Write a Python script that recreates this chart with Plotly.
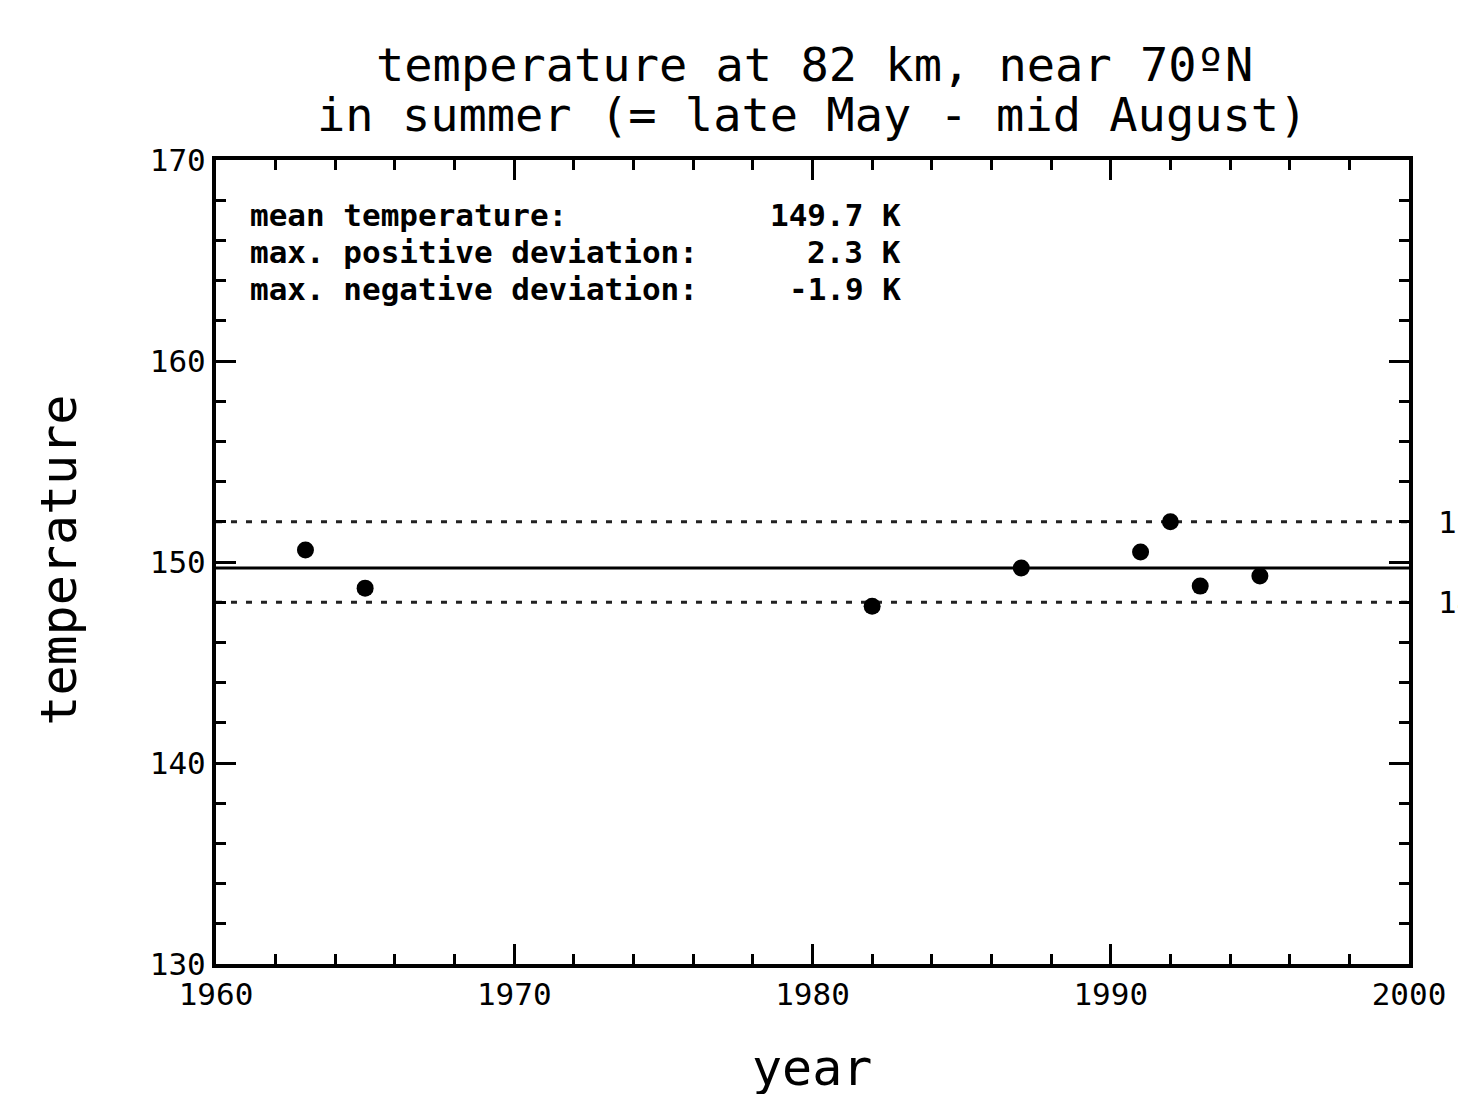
import plotly.graph_objects as go

# ---- data ----
years = [1963, 1965, 1982, 1987, 1991, 1992, 1993, 1995]
temps = [150.6, 148.7, 147.8, 149.7, 150.5, 152.0, 148.8, 149.3]
mean_temp = 149.7
upper_level = 152.0
lower_level = 148.0
x_span = [1960, 2000]
x_ticks = [1960, 1970, 1980, 1990, 2000]
y_ticks = [130, 140, 150, 160, 170]
info_labels = ["mean temperature:", "max. positive deviation:", "max. negative deviation:"]
info_values = ["149.7 K", "2.3 K", "-1.9 K"]
right_labels = ["152", "148"]
right_levels = [upper_level, lower_level]

W, H = 1458, 1094
L, R, T, B = 216, 36, 160, 130
pw = W - L - R
ph = H - T - B

fig = go.Figure()

fig.add_trace(go.Scatter(x=x_span, y=[mean_temp, mean_temp], mode="lines",
                         line=dict(color="black", width=3), showlegend=False))
for lev in [upper_level, lower_level]:
    fig.add_trace(go.Scatter(x=x_span, y=[lev, lev], mode="lines",
                             line=dict(color="#222", width=3, dash="6px,9px"), showlegend=False))
fig.add_trace(go.Scatter(x=years, y=temps, mode="markers",
                         marker=dict(color="black", size=17), showlegend=False))

tickfont = dict(family="DejaVu Sans Mono", size=31, color="black")
common = dict(showgrid=False, zeroline=False, showline=True, linecolor="black", linewidth=4,
              mirror="ticks", ticks="inside", tickwidth=3, tickcolor="black",
              tickfont=tickfont, ticklabeloverflow="allow")
fig.update_xaxes(range=x_span, tickvals=x_ticks, ticklen=20,
                 minor=dict(dtick=2, ticks="inside", ticklen=10, tickwidth=3, tickcolor="black"),
                 **common)
fig.update_yaxes(range=[130, 170], tickvals=y_ticks, ticklen=20,
                 minor=dict(dtick=2, ticks="inside", ticklen=10, tickwidth=3, tickcolor="black"),
                 **common)

ann = []
titlefont = dict(family="DejaVu Sans Mono", size=47, color="black")
ann.append(dict(text="temperature at 82 km, near 70ºN", x=(821 - L) / pw, y=(H - B - 64) / ph,
                xref="paper", yref="paper", showarrow=False, font=titlefont, xanchor="center", yanchor="middle"))
ann.append(dict(text="in summer (= late May - mid August)", x=(818 - L) / pw, y=(H - B - 114) / ph,
                xref="paper", yref="paper", showarrow=False, font=titlefont, xanchor="center", yanchor="middle"))

infofont = dict(family="DejaVu Sans Mono", size=31, color="black")
for i, (lab, val) in enumerate(zip(info_labels, info_values)):
    yy = 215 + 37 * i
    ann.append(dict(text="<b>" + lab + "</b>", x=(248 - L) / pw, y=(H - B - yy) / ph, xref="paper", yref="paper",
                    showarrow=False, font=infofont, xanchor="left", yanchor="middle"))
    ann.append(dict(text="<b>" + val + "</b>", x=(910 - L) / pw, y=(H - B - yy) / ph, xref="paper", yref="paper",
                    showarrow=False, font=infofont, xanchor="right", yanchor="middle"))

axfont = dict(family="DejaVu Sans Mono", size=50, color="black")
ann.append(dict(text="temperature", x=(57 - L) / pw, y=0.5 + (964 - 560 - ph / 2) / ph, xref="paper", yref="paper",
                showarrow=False, font=axfont, textangle=-90, xanchor="center", yanchor="middle"))
ann.append(dict(text="year", x=(818 - L) / pw, y=(H - B - 1068) / ph, xref="paper", yref="paper",
                showarrow=False, font=axfont, xanchor="center", yanchor="middle"))

for lab, lev in zip(right_labels, right_levels):
    ann.append(dict(text=lab, x=(1449 - L) / pw, y=lev, xref="paper", yref="y",
                    showarrow=False, font=tickfont, xanchor="left", yanchor="middle"))

fig.update_layout(width=W, height=H, margin=dict(l=L, r=R, t=T, b=B),
                  plot_bgcolor="white", paper_bgcolor="white", annotations=ann,
                  font=dict(family="DejaVu Sans Mono", color="black"))

fig.write_html("out.html")
